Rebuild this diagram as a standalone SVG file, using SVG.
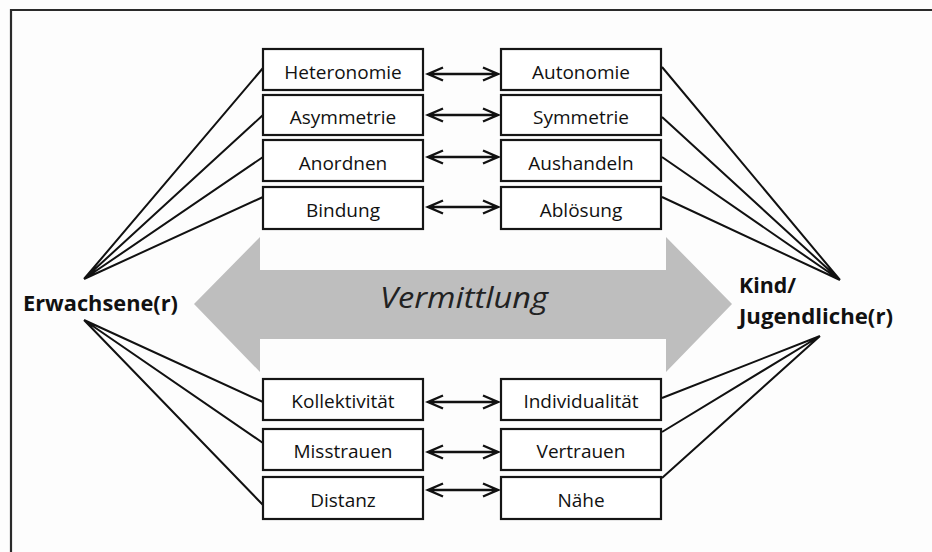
<svg xmlns="http://www.w3.org/2000/svg" width="932" height="552" viewBox="0 0 932 552">
<defs>
<style>
.bg{fill:#fdfdfd}
.frame{stroke:#2a2a2a;stroke-width:2.2;fill:none}
.box{fill:#ffffff;stroke:#151515;stroke-width:2.2}
.lbl{font-family:"Open Sans","Liberation Sans",sans-serif;font-size:19px;fill:#111111;text-anchor:middle}
.big{font-family:"Open Sans","Liberation Sans",sans-serif;font-size:21px;font-weight:bold;fill:#111111}
.mid{font-family:"Open Sans","Liberation Sans",sans-serif;font-size:29px;font-style:italic;fill:#222222}
.fan{stroke:#111111;stroke-width:2;fill:none}
.dbl{stroke:#111111;stroke-width:2.4;fill:none;stroke-linejoin:miter}
</style>
</defs>
<rect class="bg" x="0" y="0" width="932" height="552"/>
<path class="frame" d="M11,552 L11,10 L932,10"/>

<g id="vermittlung">
<polygon points="194,304 260,237 260,270 666,270 666,237 732,304 666,372 666,339 260,339 260,372" fill="#bebebe"/>
<text class="mid" x="464" y="308" text-anchor="middle" textLength="168" lengthAdjust="spacingAndGlyphs">Vermittlung</text>
</g>

<g id="connectors">
<path class="fan" d="M84,279 L263,68 M84,279 L263,115 M84,279 L263,157 M84,279 L263,197"/>
<path class="fan" d="M84,320 L263,402 M84,320 L263,443 M84,320 L263,505"/>
<path class="fan" d="M840,280 L662,67 M840,280 L662,117 M840,280 L662,157 M840,280 L662,197"/>
<path class="fan" d="M820,336 L662,398 M820,336 L662,432 M820,336 L662,478"/>
<path class="dbl" d="M428,74 L498,74 M443,67.5 L428,74 L443,80.5 M483,67.5 L498,74 L483,80.5"/>
<path class="dbl" d="M428,115 L498,115 M443,108.5 L428,115 L443,121.5 M483,108.5 L498,115 L483,121.5"/>
<path class="dbl" d="M428,157 L498,157 M443,150.5 L428,157 L443,163.5 M483,150.5 L498,157 L483,163.5"/>
<path class="dbl" d="M428,207 L498,207 M443,200.5 L428,207 L443,213.5 M483,200.5 L498,207 L483,213.5"/>
<path class="dbl" d="M428,402 L498,402 M443,395.5 L428,402 L443,408.5 M483,395.5 L498,402 L483,408.5"/>
<path class="dbl" d="M428,452 L498,452 M443,445.5 L428,452 L443,458.5 M483,445.5 L498,452 L483,458.5"/>
<path class="dbl" d="M428,490 L498,490 M443,483.5 L428,490 L443,496.5 M483,483.5 L498,490 L483,496.5"/>
</g>

<g id="erwachsene"><text class="big" x="23" y="311" textLength="155" lengthAdjust="spacingAndGlyphs">Erwachsene(r)</text></g>
<g id="kind"><text class="big" x="739" y="293" textLength="57" lengthAdjust="spacingAndGlyphs">Kind/</text><text class="big" x="739" y="324" textLength="154" lengthAdjust="spacingAndGlyphs">Jugendliche(r)</text></g>

<g id="heteronomie"><rect class="box" x="263" y="49" width="160" height="41"/><text class="lbl" x="343" y="79">Heteronomie</text></g>
<g id="asymmetrie"><rect class="box" x="263" y="95" width="160" height="40"/><text class="lbl" x="343" y="124">Asymmetrie</text></g>
<g id="anordnen"><rect class="box" x="263" y="140" width="160" height="41"/><text class="lbl" x="343" y="170">Anordnen</text></g>
<g id="bindung"><rect class="box" x="263" y="187" width="160" height="42"/><text class="lbl" x="343" y="217">Bindung</text></g>

<g id="autonomie"><rect class="box" x="501" y="49" width="160" height="41"/><text class="lbl" x="581" y="79">Autonomie</text></g>
<g id="symmetrie"><rect class="box" x="501" y="95" width="160" height="40"/><text class="lbl" x="581" y="124">Symmetrie</text></g>
<g id="aushandeln"><rect class="box" x="501" y="140" width="160" height="41"/><text class="lbl" x="581" y="170">Aushandeln</text></g>
<g id="abloesung"><rect class="box" x="501" y="187" width="160" height="42"/><text class="lbl" x="581" y="217">Ablösung</text></g>

<g id="kollektivitaet"><rect class="box" x="263" y="379" width="160" height="41"/><text class="lbl" x="343" y="408">Kollektivität</text></g>
<g id="misstrauen"><rect class="box" x="263" y="429" width="160" height="41"/><text class="lbl" x="343" y="458">Misstrauen</text></g>
<g id="distanz"><rect class="box" x="263" y="477" width="160" height="42"/><text class="lbl" x="343" y="507">Distanz</text></g>

<g id="individualitaet"><rect class="box" x="501" y="379" width="160" height="41"/><text class="lbl" x="581" y="408">Individualität</text></g>
<g id="vertrauen"><rect class="box" x="501" y="429" width="160" height="41"/><text class="lbl" x="581" y="458">Vertrauen</text></g>
<g id="naehe"><rect class="box" x="501" y="477" width="160" height="42"/><text class="lbl" x="581" y="507">Nähe</text></g>
</svg>
